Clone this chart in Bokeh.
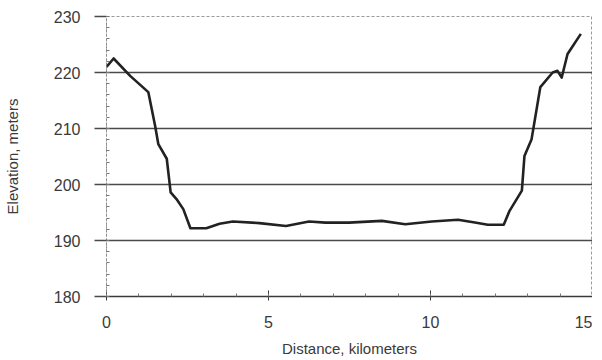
from bokeh.plotting import figure
from bokeh.embed import file_html
from bokeh.resources import INLINE
from bokeh.models import Range1d, FixedTicker

# Elevation profile data (distance in km, elevation in m)
distance_km = [0, 0.22, 0.73, 1.29, 1.5, 1.6, 1.86, 1.98, 2.16, 2.37, 2.59, 3.08,
               3.49, 3.90, 4.72, 5.54, 6.25, 6.76, 7.48, 8.50, 9.22, 10.04, 10.85,
               11.37, 11.77, 12.26, 12.44, 12.82, 12.90, 13.12, 13.39, 13.77, 13.92,
               14.05, 14.23, 14.64]
elevation_m = [221.0, 222.5, 219.4, 216.5, 210.5, 207.2, 204.6, 198.6, 197.4, 195.6,
               192.2, 192.2, 193.0, 193.4, 193.1, 192.6, 193.4, 193.2, 193.2, 193.5,
               192.9, 193.4, 193.7, 193.2, 192.8, 192.8, 195.3, 198.9, 205.1, 208.1,
               217.4, 220.0, 220.3, 219.1, 223.3, 226.9]

x_ticks = [0, 5, 10, 15]
y_ticks = [180, 190, 200, 210, 220, 230]

FONT = "Liberation Sans"
TXT = "#3a3a3a"

p = figure(frame_width=486, frame_height=280, output_backend="svg",
           toolbar_location=None,
           x_range=Range1d(0, 15), y_range=Range1d(180, 230),
           min_border_left=104, min_border_right=0, min_border_top=16,
           min_border_bottom=50)

p.background_fill_color = "white"
p.border_fill_color = "white"
p.outline_line_color = "#9a9a9a"
p.outline_line_dash = "3 2"
p.outline_line_width = 1

p.line(distance_km, elevation_m, line_color="#222222", line_width=2.6,
       line_join="round")

# Grid
p.xgrid.grid_line_color = None
p.ygrid.grid_line_color = "#4a4a4a"
p.ygrid.grid_line_width = 1.3
p.ygrid.ticker = FixedTicker(ticks=y_ticks)

# X axis
xa = p.xaxis[0]
xa.ticker = FixedTicker(ticks=x_ticks, minor_ticks=list(range(0, 16)))
xa.axis_label = "Distance, kilometers"
xa.axis_label_text_font = FONT
xa.axis_label_text_font_size = "15px"
xa.axis_label_text_font_style = "normal"
xa.axis_label_text_color = TXT
xa.axis_label_standoff = 9
xa.major_label_text_font = FONT
xa.major_label_text_font_size = "16px"
xa.major_label_text_color = TXT
xa.major_label_standoff = 15
xa.axis_line_color = "#3a3a3a"
xa.axis_line_width = 1.5
xa.major_tick_line_color = "#3a3a3a"
xa.major_tick_in = 6
xa.major_tick_out = 4
xa.minor_tick_line_color = "#777777"
xa.minor_tick_in = 3
xa.minor_tick_out = 0

# Y axis
ya = p.yaxis[0]
ya.ticker = FixedTicker(ticks=y_ticks, minor_ticks=list(range(180, 231, 2)))
ya.axis_label = "Elevation, meters"
ya.axis_label_text_font = FONT
ya.axis_label_text_font_size = "15px"
ya.axis_label_text_font_style = "normal"
ya.axis_label_text_color = TXT
ya.axis_label_standoff = 30
ya.major_label_text_font = FONT
ya.major_label_text_font_size = "16px"
ya.major_label_text_color = TXT
ya.major_label_standoff = 14
ya.axis_line_color = "#8a8a8a"
ya.axis_line_dash = "2 2"
ya.axis_line_width = 1
ya.major_tick_line_color = "#4a4a4a"
ya.major_tick_line_width = 1.3
ya.major_tick_in = 0
ya.major_tick_out = 12
ya.minor_tick_line_color = "#777777"
ya.minor_tick_in = 3
ya.minor_tick_out = 0

open("out.html", "w").write(file_html(p, INLINE))
